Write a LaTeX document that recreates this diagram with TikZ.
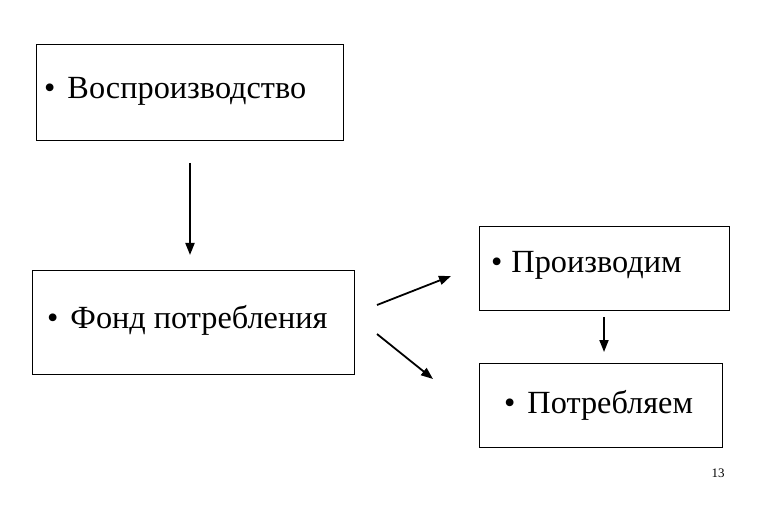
\documentclass[tikz,border=0pt]{standalone}
\usepackage{fontspec}
\setmainfont{Liberation Serif}
\usetikzlibrary{arrows.meta}
\begin{document}
\begin{tikzpicture}[x=1pt,y=-1pt,
  box/.style={draw=black,line width=1pt},
  lbl/.style={anchor=base west,inner sep=0pt,font=\fontsize{32.3}{36}\selectfont},
  arr/.style={line width=1.8pt,-{Triangle[length=12pt,width=9pt]}}]
\useasboundingbox[fill=white] (0,0) rectangle (765,510);
\draw[box] (36,45) rectangle (343,141);
\draw[box] (32,271) rectangle (354,374);
\draw[box] (479,227) rectangle (729,311);
\draw[box] (479,363) rectangle (722,447);
\node[lbl] (t1) at (44,99) {•\hskip 12pt Воспроизводство};
\node[lbl] (t2) at (47,328) {•\hskip 12pt Фонд потребления};
\node[lbl] (t3) at (491,273) {•\hskip 9pt Производим};
\node[lbl] (t4) at (504,413) {•\hskip 12pt Потребляем};
\node[anchor=base,inner sep=0pt,font=\fontsize{13}{15}\selectfont] (pg) at (718,477) {13};
\coordinate (a1s) at (190,163); \coordinate (a1e) at (190,255);
\coordinate (a2s) at (377,305); \coordinate (a2e) at (451,276);
\coordinate (a3s) at (377,334); \coordinate (a3e) at (433,379);
\coordinate (a4s) at (604,317); \coordinate (a4e) at (604,352);
\draw[arr] (a1s) -- (a1e);
\draw[arr] (a2s) -- (a2e);
\draw[arr] (a3s) -- (a3e);
\draw[arr] (a4s) -- (a4e);
\end{tikzpicture}
\end{document}
